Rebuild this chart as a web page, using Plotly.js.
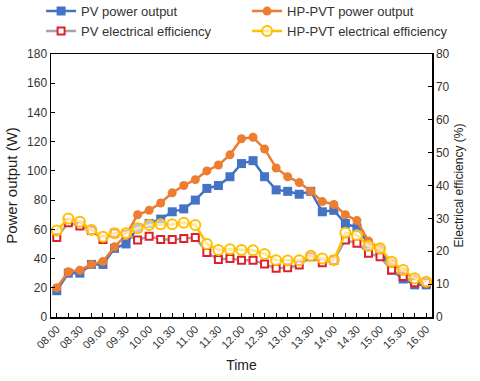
<!DOCTYPE html>
<html>
<head>
<meta charset="utf-8">
<script src="https://cdn.plot.ly/plotly-3.0.1.min.js"></script>
<style>
  html, body { margin: 0; padding: 0; background: #fff; }
  #chart { width: 480px; height: 381px; }
</style>
</head>
<body>
<div id="chart"></div>
<script>
const times = ['08.00', '08.15', '08.30', '08.45', '09.00', '09.15', '09.30', '09.45',
  '10.00', '10.15', '10.30', '10.45', '11.00', '11.15', '11.30', '11.45',
  '12.00', '12.15', '12.30', '12.45', '13.00', '13.15', '13.30', '13.45',
  '14.00', '14.15', '14.30', '14.45', '15.00', '15.15', '15.30', '15.45', '16.00'];

// power output (W)
const pvPower = [18, 30, 30, 36, 36, 47, 50, 61, 64, 67, 72, 74, 80, 88, 90, 96,
  105, 107, 96, 87, 86, 84, 86, 72, 73, 64, 61, 50, 46, 32, 26, 22, 22];
const hpPower = [20, 31, 32, 36, 38, 48, 56, 70, 73, 78, 85, 90, 94, 100, 104, 111,
  122, 123, 115, 102, 96, 92, 86, 79, 77, 70, 66, 52, 47, 37, 31, 26, 24];

// electrical efficiency (%)
const pvEff = [24.2, 28.7, 27.7, 26.3, 23.6, 25.5, 25.2, 23.4, 24.6, 23.6, 23.6, 23.9,
  24.2, 19.6, 17.5, 17.8, 17.3, 17.3, 16.1, 14.8, 15.0, 15.8, 18.3, 16.5, 17.3,
  23.4, 22.4, 19.4, 18.3, 14.3, 12.3, 10.4, 10.4];
const hpEff = [26.3, 30.0, 29.0, 26.5, 24.4, 25.5, 25.5, 27.0, 28.0, 28.2, 28.2, 28.7,
  28.0, 22.2, 20.4, 20.6, 20.4, 20.3, 19.2, 17.3, 17.2, 17.3, 18.6, 17.8, 17.3,
  25.6, 24.9, 21.6, 20.9, 16.8, 14.3, 11.8, 10.7];

const tickText = times.map((t, i) => (i % 2 === 0 ? t : ''));

const traces = [
  {
    x: times, y: pvPower, name: 'PV power output',
    type: 'scatter', mode: 'lines+markers',
    line: {color: '#4472C4', width: 2.5},
    marker: {symbol: 'square', size: 9, color: '#4472C4'}
  },
  {
    x: times, y: hpPower, name: 'HP-PVT power output',
    type: 'scatter', mode: 'lines+markers',
    line: {color: '#ED7D31', width: 2.5},
    marker: {symbol: 'circle', size: 9, color: '#ED7D31'}
  },
  {
    x: times, y: pvEff, name: 'PV electrical efficiency', yaxis: 'y2',
    type: 'scatter', mode: 'lines+markers',
    line: {color: '#A5A5A5', width: 2.5},
    marker: {symbol: 'square', size: 7, color: '#ffffff', line: {color: '#E0202A', width: 2}}
  },
  {
    x: times, y: hpEff, name: 'HP-PVT electrical efficiency', yaxis: 'y2',
    type: 'scatter', mode: 'lines+markers',
    line: {color: '#FFC000', width: 2.5},
    marker: {symbol: 'circle', size: 10, color: 'rgba(255,255,255,0.6)', line: {color: '#FFC000', width: 2}}
  }
];

const layout = {
  width: 480,
  height: 381,
  margin: {l: 51, r: 48, t: 54, b: 64, autoexpand: false},
  paper_bgcolor: '#ffffff',
  plot_bgcolor: '#ffffff',
  font: {family: 'Liberation Sans, Arial, sans-serif', size: 12, color: '#333'},
  showlegend: true,
  legend: {
    orientation: 'h', x: -0.026, xanchor: 'left', y: 1.22, yanchor: 'top',
    bgcolor: 'rgba(0,0,0,0)',
    entrywidth: 161, entrywidthmode: 'pixels',
    tracegroupgap: 0, itemwidth: 30,
    font: {size: 13, color: '#333'}
  },
  xaxis: {
    type: 'category',
    range: [-0.5, 32.5],
    tickvals: times,
    ticktext: tickText,
    tickangle: -45,
    ticks: 'inside', ticklen: 4, tickcolor: '#000',
    showline: true, linecolor: '#000', linewidth: 1.5, mirror: true,
    showgrid: false, zeroline: false,
    tickfont: {size: 11, color: '#333'},
    title: {text: 'Time', font: {size: 14, color: '#222'}, standoff: 10}
  },
  yaxis: {
    range: [0, 180], dtick: 20,
    ticks: 'inside', ticklen: 4, tickcolor: '#000',
    showline: true, linecolor: '#000', linewidth: 1.5, mirror: true,
    showgrid: false, zeroline: false,
    tickfont: {size: 12, color: '#333'},
    title: {text: 'Power output (W)', font: {size: 15, color: '#222'}, standoff: 6}
  },
  yaxis2: {
    overlaying: 'y', side: 'right',
    range: [0, 80], dtick: 10,
    ticks: 'inside', ticklen: 4, tickcolor: '#000',
    showline: true, linecolor: '#000', linewidth: 1.5,
    showgrid: false, zeroline: false,
    tickfont: {size: 12, color: '#333'},
    title: {text: 'Electrical efficiency (%)', font: {size: 12, color: '#222'}, standoff: 6}
  }
};

Plotly.newPlot('chart', traces, layout, {displayModeBar: false, staticPlot: true});
</script>
</body>
</html>
